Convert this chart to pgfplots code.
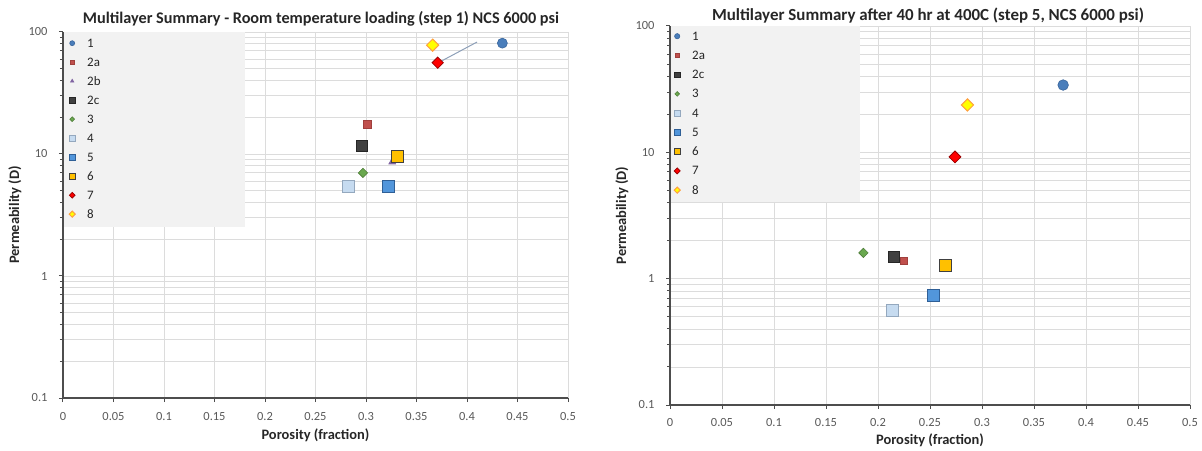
\documentclass[border=0pt]{standalone}
\usepackage{fontspec}
\setmainfont{Carlito}
\usepackage{pgfplots}
\pgfplotsset{compat=1.18}
\definecolor{gridc}{HTML}{DCDCDC}
\definecolor{axisc}{HTML}{4D4D4D}
\definecolor{tickc}{HTML}{595959}
\definecolor{titc}{HTML}{262626}
\definecolor{legbg}{HTML}{F2F2F2}
\definecolor{c1}{HTML}{4A7EBB}\definecolor{c1d}{HTML}{3A669C}
\definecolor{c2a}{HTML}{C0504D}\definecolor{c2ad}{HTML}{A0403D}
\definecolor{c2b}{HTML}{8064A2}
\definecolor{c2c}{HTML}{404040}\definecolor{c2cd}{HTML}{262626}
\definecolor{c3}{HTML}{6AA84F}\definecolor{c3d}{HTML}{4E7D38}
\definecolor{c4}{HTML}{C6DBF0}\definecolor{c4d}{HTML}{94A8BE}
\definecolor{c5}{HTML}{5296DB}\definecolor{c5d}{HTML}{2F5F96}
\definecolor{c6}{HTML}{FFC000}\definecolor{c6d}{HTML}{404040}
\definecolor{c7}{HTML}{FF0000}\definecolor{c7d}{HTML}{9A0000}
\definecolor{c8}{HTML}{FFFF00}\definecolor{c8d}{HTML}{FFA040}
\definecolor{leadc}{HTML}{8EA0B8}
\pgfplotsset{
  mk/.style={legend image code/.code={%
    \path[draw=none, fill=none] (0bp,-3bp) rectangle (9bp,3bp);
    \draw[overlay, every mark/.append style={scale=0.5}] plot coordinates {(4.5bp,0bp)};}},
}
\begin{document}
\begin{tikzpicture}
\path[use as bounding box] (0bp,0bp) rectangle (1202bp,451bp);
% ---------------- left chart ----------------
\begin{axis}[scale only axis, anchor=south west, at={(63bp,53bp)}, width=505bp, height=366bp,
    ymode=log, xmin=0, xmax=0.5, ymin=0.1, ymax=100,
    log ticks with fixed point,
    xtick={0,0.05,0.1,0.15,0.2,0.25,0.3,0.35,0.4,0.45,0.5},
    xticklabels={0,0.05,0.1,0.15,0.2,0.25,0.3,0.35,0.4,0.45,0.5},
    axis x line=bottom, axis y line=left,
    axis line style={-, draw=axisc, line width=2bp},
    grid=both,
    major grid style={draw=gridc, line width=0.8bp},
    minor grid style={draw=gridc, line width=0.8bp},
    tick style={draw=axisc, line width=1bp},
    major tick length=4bp, minor tick length=3bp, tick align=outside,
    tick label style={font=\fontsize{12.5}{14}\selectfont, text=tickc},
    xticklabel style={yshift=-7bp},
    yticklabel style={/pgf/number format/assume math mode=true, xshift=-8bp},
    label style={font=\bfseries\fontsize{14.5}{16}\selectfont, text=titc},
    title style={font=\bfseries\fontsize{16.3}{18}\selectfont, text=titc, anchor=base, at={([xshift=5.5bp,yshift=3bp]axis description cs:0.5,1)}},
    xlabel={Porosity (fraction)}, ylabel={Permeability (D)},
    xlabel style={at={([yshift=-37bp]axis description cs:0.5,0)}, anchor=center},
    ylabel style={at={([xshift=-48bp]axis description cs:0,0.5)}, anchor=center},
    legend cell align=left,
    legend style={draw=none, fill=none, inner xsep=0pt, inner ysep=0pt,
      column sep=10.5bp, row sep=11bp,
      font=\fontsize{13}{15}\selectfont, text=titc,
      nodes={inner sep=0pt, text height=8bp, text depth=0pt},
      at={([xshift=4.5bp,yshift=-7bp]axis description cs:0,1)}, anchor=north west},
  title={Multilayer Summary - Room temperature loading (step 1) NCS 6000 psi}]
\fill[legbg] ([xshift=1bp]axis description cs:0,1) rectangle ([xshift=182bp,yshift=-195bp]axis description cs:0,1);
\addplot[forget plot, sharp plot, no marks, draw=leadc, line width=1bp] coordinates {(0.373,56.8) (0.410,82.8)};
\addplot[only marks, mark=*, mark size=5bp, draw=c1d, fill=c1, line width=0.6bp, mk] coordinates {(0.435,81)};
\addlegendentry{1}
\addplot[only marks, mark=square*, mark size=3.8bp, draw=c2ad, fill=c2a, line width=0.6bp, mk] coordinates {(0.301,17.6)};
\addlegendentry{2a}
\addplot[only marks, mark=triangle*, mark size=4bp, draw=c2b, fill=c2b, line width=0.6bp, mk] coordinates {(0.326,8.6)};
\addlegendentry{2b}
\addplot[only marks, mark=square*, mark size=5.5bp, draw=c2cd, fill=c2c, line width=0.8bp, mk] coordinates {(0.296,11.6)};
\addlegendentry{2c}
\addplot[only marks, mark=square*, mark size=3.3bp, draw=c3d, fill=c3, line width=0.6bp, mark options={rotate=45}, mk] coordinates {(0.297,7.0)};
\addlegendentry{3}
\addplot[only marks, mark=square*, mark size=6bp, draw=c4d, fill=c4, line width=1bp, mk] coordinates {(0.283,5.4)};
\addlegendentry{4}
\addplot[only marks, mark=square*, mark size=6bp, draw=c5d, fill=c5, line width=1bp, mk] coordinates {(0.322,5.4)};
\addlegendentry{5}
\addplot[only marks, mark=square*, mark size=6bp, draw=c6d, fill=c6, line width=1bp, mk] coordinates {(0.331,9.6)};
\addlegendentry{6}
\addplot[only marks, mark=square*, mark size=4bp, draw=c7d, fill=c7, line width=0.8bp, mark options={rotate=45}, mk] coordinates {(0.371,56)};
\addlegendentry{7}
\addplot[only marks, mark=square*, mark size=4.3bp, draw=c8d, fill=c8, line width=1bp, mark options={rotate=45}, mk] coordinates {(0.366,78)};
\addlegendentry{8}
\end{axis}
% ---------------- right chart ----------------
\begin{axis}[scale only axis, anchor=south west, at={(670bp,46bp)}, width=520bp, height=379bp,
    ymode=log, xmin=0, xmax=0.5, ymin=0.1, ymax=100,
    log ticks with fixed point,
    xtick={0,0.05,0.1,0.15,0.2,0.25,0.3,0.35,0.4,0.45,0.5},
    xticklabels={0,0.05,0.1,0.15,0.2,0.25,0.3,0.35,0.4,0.45,0.5},
    axis x line=bottom, axis y line=left,
    axis line style={-, draw=axisc, line width=2bp},
    grid=both,
    major grid style={draw=gridc, line width=0.8bp},
    minor grid style={draw=gridc, line width=0.8bp},
    tick style={draw=axisc, line width=1bp},
    major tick length=4bp, minor tick length=3bp, tick align=outside,
    tick label style={font=\fontsize{12.5}{14}\selectfont, text=tickc},
    xticklabel style={yshift=-6bp},
    yticklabel style={/pgf/number format/assume math mode=true, xshift=-8bp},
    label style={font=\bfseries\fontsize{14.5}{16}\selectfont, text=titc},
    title style={font=\bfseries\fontsize{17}{19}\selectfont, text=titc, anchor=base, at={([xshift=-2bp,yshift=0bp]axis description cs:0.5,1)}},
    xlabel={Porosity (fraction)}, ylabel={Permeability (D)},
    xlabel style={at={([yshift=-35bp]axis description cs:0.5,0)}, anchor=center},
    ylabel style={at={([xshift=-48bp]axis description cs:0,0.5)}, anchor=center},
    legend cell align=left,
    legend style={draw=none, fill=none, inner xsep=0pt, inner ysep=0pt,
      column sep=10.5bp, row sep=11.25bp,
      font=\fontsize{13}{15}\selectfont, text=titc,
      nodes={inner sep=0pt, text height=8bp, text depth=0pt},
      at={([xshift=2.5bp,yshift=-6bp]axis description cs:0,1)}, anchor=north west},
  title={Multilayer Summary after 40 hr at 400C (step 5, NCS 6000 psi)}]
\fill[legbg] ([xshift=1bp]axis description cs:0,1) rectangle ([xshift=190bp,yshift=-176bp]axis description cs:0,1);
\addplot[only marks, mark=*, mark size=5.3bp, draw=c1d, fill=c1, line width=0.6bp, mk] coordinates {(0.378,34.1)};
\addlegendentry{1}
\addplot[only marks, mark=square*, mark size=3.6bp, draw=c2ad, fill=c2a, line width=0.6bp, mk] coordinates {(0.225,1.38)};
\addlegendentry{2a}
\addplot[only marks, mark=square*, mark size=5.5bp, draw=c2cd, fill=c2c, line width=0.8bp, mk] coordinates {(0.215,1.48)};
\addlegendentry{2c}
\addplot[only marks, mark=square*, mark size=3.3bp, draw=c3d, fill=c3, line width=0.6bp, mark options={rotate=45}, mk] coordinates {(0.186,1.6)};
\addlegendentry{3}
\addplot[only marks, mark=square*, mark size=6bp, draw=c4d, fill=c4, line width=1bp, mk] coordinates {(0.214,0.56)};
\addlegendentry{4}
\addplot[only marks, mark=square*, mark size=6bp, draw=c5d, fill=c5, line width=1bp, mk] coordinates {(0.253,0.73)};
\addlegendentry{5}
\addplot[only marks, mark=square*, mark size=6bp, draw=c6d, fill=c6, line width=1bp, mk] coordinates {(0.265,1.26)};
\addlegendentry{6}
\addplot[only marks, mark=square*, mark size=4.2bp, draw=c7d, fill=c7, line width=0.8bp, mark options={rotate=45}, mk] coordinates {(0.274,9.2)};
\addlegendentry{7}
\addplot[only marks, mark=square*, mark size=4.3bp, draw=c8d, fill=c8, line width=1bp, mark options={rotate=45}, mk] coordinates {(0.286,23.7)};
\addlegendentry{8}
\end{axis}
\end{tikzpicture}
\end{document}
